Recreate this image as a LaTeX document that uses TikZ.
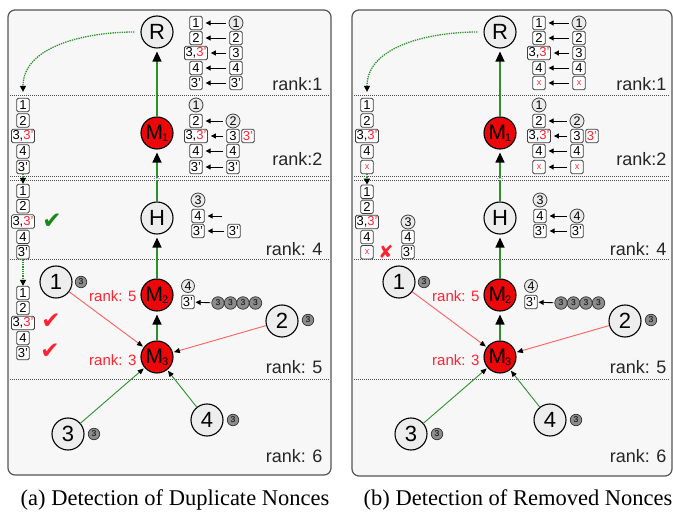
\documentclass[tikz,border=0pt]{standalone}
\usepackage{fontspec}
\usepackage{xcolor}
\usepackage{tikz}
\usetikzlibrary{arrows.meta, positioning}
\setmainfont{Liberation Sans}
\newfontfamily\capfont{Liberation Serif}
\newfontfamily\symfont{DejaVu Sans}
\definecolor{panelbg}{RGB}{247, 247, 247}
\definecolor{framegray}{RGB}{85, 85, 85}
\definecolor{motered}{RGB}{236, 8, 8}
\definecolor{warnred}{RGB}{255, 35, 50}
\definecolor{linkred}{RGB}{255, 95, 95}
\definecolor{treegreen}{RGB}{45, 145, 45}
\definecolor{okgreen}{RGB}{25, 135, 25}
\definecolor{tagfill}{RGB}{140, 140, 140}
\definecolor{dotblue}{RGB}{70, 100, 210}
\newcommand{\dup}{3,\textcolor{warnred}{3'}}
\newcommand{\gone}{\textcolor{warnred}{\fontsize{9}{9}\selectfont x}}
\newcommand{\msub}[1]{M\kern-1pt\raisebox{-2pt}{\fontsize{11}{11}\selectfont #1}}

\begin{document}
\begin{tikzpicture}[x=1pt, y=-1pt,
  panel/.style={draw=framegray, fill=panelbg, rounded corners=7pt, line width=1.2pt},
  rankline/.style={densely dotted, line width=1pt, black!70},
  ranklabel/.style={anchor=base east, font=\fontsize{18}{18}\selectfont, text=black!85},
  redlabel/.style={anchor=east, font=\fontsize{15}{15}\selectfont, text=warnred},
  mote/.style={circle, draw, line width=1.1pt, fill=black!7, minimum size=32pt, inner sep=0pt, font=\fontsize{22}{22}\selectfont},
  mrouter/.style={mote, fill=motered, font=\fontsize{21}{21}\selectfont},
  nonce/.style={draw=black!75, fill=white, rounded corners=1.5pt, line width=0.8pt, minimum width=12.5pt, minimum height=13.5pt, inner sep=1pt, font=\fontsize{13}{13}\selectfont},
  cnonce/.style={circle, draw=black!75, fill=black!8, line width=0.8pt, minimum size=14pt, inner sep=0pt, font=\fontsize{12.5}{12.5}\selectfont},
  tag/.style={circle, draw=black!80, fill=tagfill, line width=0.7pt, minimum size=11.5pt, inner sep=0pt, font=\fontsize{8.5}{8.5}\selectfont},
  uplink/.style={draw=treegreen, line width=1.1pt, -{Triangle[length=10pt, width=9pt, color=black]}, shorten >=3pt},
  goodlink/.style={draw=treegreen, line width=0.9pt, -{Triangle[length=6pt, width=5pt, color=black]}, shorten >=1pt},
  badlink/.style={draw=linkred, line width=0.9pt, -{Triangle[length=6pt, width=5pt, color=black]}, shorten >=1pt},
  copyto/.style={-{Triangle[length=5pt, width=5pt]}, line width=0.9pt, shorten >=3pt, shorten <=3pt},
  pass/.style={densely dotted, draw=treegreen, line width=1.3pt, -{Triangle[length=6pt, width=6pt, color=black]}},
  ellip/.style={fill=panelbg, inner sep=1pt, text=dotblue, font=\fontsize{8}{8}\selectfont},
  verdict/.style={font=\symfont\fontsize{23}{23}\selectfont},
  subcap/.style={font=\capfont\fontsize{22.5}{22.5}\selectfont}
]
  \useasboundingbox (0,0) rectangle (673,513);

  % ---------- (a) duplicate nonces ----------
  \draw[panel] (8,10) rectangle (331,475);
  \draw[rankline] (10,96) -- (329,96);
  \draw[rankline] (10,177) -- (329,177);
  \draw[rankline] (10,181) -- (329,181);
  \draw[rankline] (10,260) -- (329,260);
  \draw[rankline] (10,380) -- (329,380);
  \node[ranklabel] (ark1) at (326,91) {rank:1};
  \node[ranklabel] (ark2) at (326,166) {rank:2};
  \node[ranklabel] (ark4) at (326,256) {rank: 4};
  \node[ranklabel] (ark5) at (326,374) {rank: 5};
  \node[ranklabel] (ark6) at (326,463) {rank: 6};

  % Motes
  \node[mote] (aR) at (157,32) {R};
  \node[mrouter] (aM1) at (157,133) {\msub{1}};
  \node[mote] (aH) at (157,218) {H};
  \node[mrouter] (aM2) at (157,295) {\msub{2}};
  \node[mrouter] (aM3) at (157,357) {\msub{3}};
  \node[mote] (a1) at (56,282) {1};
  \node[mote] (a2) at (282,321) {2};
  \node[mote] (a3) at (68,434) {3};
  \node[mote] (a4) at (207,420) {4};
  \node[tag] (a1t) at (81,282) {3};
  \node[tag] (a2t) at (308,320) {3};
  \node[tag] (a3t) at (94,434) {3};
  \node[tag] (a4t) at (233,420) {3};
  \node[redlabel] (aM2r) at (140,296) {rank: 5};
  \node[redlabel] (aM3r) at (140,360) {rank: 3};

  % Links
  \draw[uplink] (aM1) -- (aR);
  \draw[uplink] (aH) -- (aM1);
  \draw[uplink] (aM2) -- (aH);
  \draw[uplink] (aM3) -- (aM2);
  \draw[badlink] (a1) -- (aM3);
  \draw[badlink] (a2) -- (aM3);
  \draw[goodlink] (a3) -- (aM3);
  \draw[goodlink] (a4) -- (aM3);
  \node[ellip] (aGap) at (157,179) {...};

  % Rank 1 table
  \node[nonce] (a11) at (196,23) {1};
  \node[nonce] (a12) at (196,38) {2};
  \node[nonce] (a13) at (196,53) {\dup};
  \node[nonce] (a14) at (196,68) {4};
  \node[nonce] (a15) at (196,83) {3'};
  \node[cnonce] (a21) at (236,23) {1};
  \node[nonce] (a22) at (236,38) {2};
  \node[nonce] (a23) at (236,53) {3};
  \node[nonce] (a24) at (236,68) {4};
  \node[nonce] (a25) at (236,83) {3'};
  \draw[copyto] (a21) -- (a11);
  \draw[copyto] (a22) -- (a12);
  \draw[copyto] (a23) -- (a13);
  \draw[copyto] (a24) -- (a14);
  \draw[copyto] (a25) -- (a15);

  % Rank 2 table
  \node[cnonce] (a31) at (196,105) {1};
  \node[nonce] (a32) at (196,121) {2};
  \node[nonce] (a33) at (196,136) {\dup};
  \node[nonce] (a34) at (196,151) {4};
  \node[nonce] (a35) at (196,167) {3'};
  \node[cnonce] (a42) at (233,121) {2};
  \node[nonce] (a43) at (233,136) {3};
  \node[nonce, text=warnred] (a43b) at (248,136) {3'};
  \node[nonce] (a44) at (233,151) {4};
  \node[nonce] (a45) at (233,167) {3'};
  \draw[copyto] (a42) -- (a32);
  \draw[copyto] (a43) -- (a33);
  \draw[copyto] (a44) -- (a34);
  \draw[copyto] (a45) -- (a35);

  % Rank 4 table
  \node[cnonce] (a51) at (198,200) {3};
  \node[nonce] (a52) at (198,216) {4};
  \node[nonce] (a53) at (198,231) {3'};
  \coordinate (a62) at (225,216);
  \node[nonce] (a63) at (234,231) {3'};
  \draw[copyto] (a62) -- (a52);
  \draw[copyto] (a63) -- (a53);

  % Rank 5 table
  \node[cnonce, minimum size=13pt] (a71) at (188,286) {4};
  \node[nonce] (a72) at (188,302) {3'};
  \node[tag, minimum size=12.5pt] (a81) at (218,303) {3};
  \node[tag, minimum size=12.5pt] (a82) at (230.5,303) {3};
  \node[tag, minimum size=12.5pt] (a83) at (243,303) {3};
  \node[tag, minimum size=12.5pt] (a84) at (255.5,303) {3};
  \draw[copyto, shorten <=1pt, shorten >=1pt] (a81) -- (a72);

  % Root checks
  \foreach \t [count=\i] in {1, 2, \dup, 4, 3'}
    \node[nonce] (as2-\i) at (23,89.5+15.5*\i) {\t};
  \foreach \t [count=\i] in {1, 2, \dup, 4, 3'}
    \node[nonce] (as4-\i) at (23,175.7+15.3*\i) {\t};
  \foreach \t [count=\i] in {1, 2, \dup, 4, 3'}
    \node[nonce] (as5-\i) at (23,278+15*\i) {\t};
  \draw[pass, shorten <=6pt, shorten >=6pt] (aR.west) to[out=180, in=90] (as2-1.north);
  \draw[pass] (as2-5) -- (as4-1);
  \draw[pass] (as4-5) -- (as5-1);
  \node[verdict, text=okgreen] (aok4) at (52,221) {✔};
  \node[verdict, text=warnred] (aok5a) at (51,321) {✔};
  \node[verdict, text=warnred] (aok5b) at (50,351) {✔};

  \node[subcap] (acap) at (175,500) {(a) Detection of Duplicate Nonces};

  % ---------- (b) removed nonces ----------
  \begin{scope}[xshift=343]
  \draw[panel] (9,10) rectangle (329,476);
  \draw[rankline] (11,96) -- (327,96);
  \draw[rankline] (11,177) -- (327,177);
  \draw[rankline] (11,181) -- (327,181);
  \draw[rankline] (11,260) -- (327,260);
  \draw[rankline] (11,380) -- (327,380);
  \node[ranklabel] (brk1) at (327,91) {rank:1};
  \node[ranklabel] (brk2) at (327,166) {rank:2};
  \node[ranklabel] (brk4) at (327,256) {rank: 4};
  \node[ranklabel] (brk5) at (327,374) {rank: 5};
  \node[ranklabel] (brk6) at (327,463) {rank: 6};

  % Motes
  \node[mote] (bR) at (157,32) {R};
  \node[mrouter] (bM1) at (157,133) {\msub{1}};
  \node[mote] (bH) at (157,218) {H};
  \node[mrouter] (bM2) at (157,295) {\msub{2}};
  \node[mrouter] (bM3) at (157,357) {\msub{3}};
  \node[mote] (b1) at (56,282) {1};
  \node[mote] (b2) at (282,321) {2};
  \node[mote] (b3) at (68,434) {3};
  \node[mote] (b4) at (207,420) {4};
  \node[tag] (b1t) at (81,282) {3};
  \node[tag] (b2t) at (308,320) {3};
  \node[tag] (b3t) at (94,434) {3};
  \node[tag] (b4t) at (233,420) {3};
  \node[redlabel] (bM2r) at (140,296) {rank: 5};
  \node[redlabel] (bM3r) at (140,360) {rank: 3};

  % Links
  \draw[uplink] (bM1) -- (bR);
  \draw[uplink] (bH) -- (bM1);
  \draw[uplink] (bM2) -- (bH);
  \draw[uplink] (bM3) -- (bM2);
  \draw[badlink] (b1) -- (bM3);
  \draw[badlink] (b2) -- (bM3);
  \draw[goodlink] (b3) -- (bM3);
  \draw[goodlink] (b4) -- (bM3);
  \node[ellip] (bGap) at (157,179) {...};

  % Rank 1 table
  \node[nonce] (b11) at (196,23) {1};
  \node[nonce] (b12) at (196,38) {2};
  \node[nonce] (b13) at (196,53) {\dup};
  \node[nonce] (b14) at (196,68) {4};
  \node[nonce] (b15) at (196,83) {\gone};
  \node[cnonce] (b21) at (236,23) {1};
  \node[nonce] (b22) at (236,38) {2};
  \node[nonce] (b23) at (236,53) {3};
  \node[nonce] (b24) at (236,68) {4};
  \node[nonce] (b25) at (236,83) {\gone};
  \draw[copyto] (b21) -- (b11);
  \draw[copyto] (b22) -- (b12);
  \draw[copyto] (b23) -- (b13);
  \draw[copyto] (b24) -- (b14);
  \draw[copyto] (b25) -- (b15);

  % Rank 2 table
  \node[cnonce] (b31) at (196,105) {1};
  \node[nonce] (b32) at (196,121) {2};
  \node[nonce] (b33) at (196,136) {\dup};
  \node[nonce] (b34) at (196,151) {4};
  \node[nonce] (b35) at (196,167) {\gone};
  \node[cnonce] (b42) at (234,121) {2};
  \node[nonce] (b43) at (234,136) {3};
  \node[nonce, text=warnred] (b43b) at (249,136) {3'};
  \node[nonce] (b44) at (234,151) {4};
  \node[nonce] (b45) at (234,167) {\gone};
  \draw[copyto] (b42) -- (b32);
  \draw[copyto] (b43) -- (b33);
  \draw[copyto] (b44) -- (b34);
  \draw[copyto] (b45) -- (b35);

  % Rank 4 table
  \node[cnonce] (b51) at (197,200) {3};
  \node[nonce] (b52) at (197,216) {4};
  \node[nonce] (b53) at (197,231) {3'};
  \node[cnonce] (b62) at (234,216) {4};
  \node[nonce] (b63) at (234,231) {3'};
  \draw[copyto] (b62) -- (b52);
  \draw[copyto] (b63) -- (b53);

  % Rank 5 table
  \node[cnonce, minimum size=13pt] (b71) at (188,286) {4};
  \node[nonce] (b72) at (188,302) {3'};
  \node[tag, minimum size=12.5pt] (b81) at (218,303) {3};
  \node[tag, minimum size=12.5pt] (b82) at (230.5,303) {3};
  \node[tag, minimum size=12.5pt] (b83) at (243,303) {3};
  \node[tag, minimum size=12.5pt] (b84) at (255.5,303) {3};
  \draw[copyto, shorten <=1pt, shorten >=1pt] (b81) -- (b72);

  % Root checks
  \foreach \t [count=\i] in {1, 2, \dup, 4, \gone}
    \node[nonce] (bs2-\i) at (24,89.5+15.5*\i) {\t};
  \foreach \t [count=\i] in {1, 2, \dup, 4, \gone}
    \node[nonce] (bs4-\i) at (24,176.7+15.1*\i) {\t};
  \node[cnonce] (bx1) at (65,222) {3};
  \node[nonce] (bx2) at (65,237) {4};
  \node[nonce] (bx3) at (65,252) {3'};
  \draw[pass, shorten <=6pt, shorten >=6pt] (bR.west) to[out=180, in=90] (bs2-1.north);
  \draw[pass] (bs2-5) -- (bs4-1);
  \node[verdict, text=warnred, font=\symfont\fontsize{18}{18}\selectfont] (bno4) at (43,252) {✘};

  \node[subcap] (bcap) at (175,500) {(b) Detection of Removed Nonces};
  \end{scope}
\end{tikzpicture}
\end{document}
